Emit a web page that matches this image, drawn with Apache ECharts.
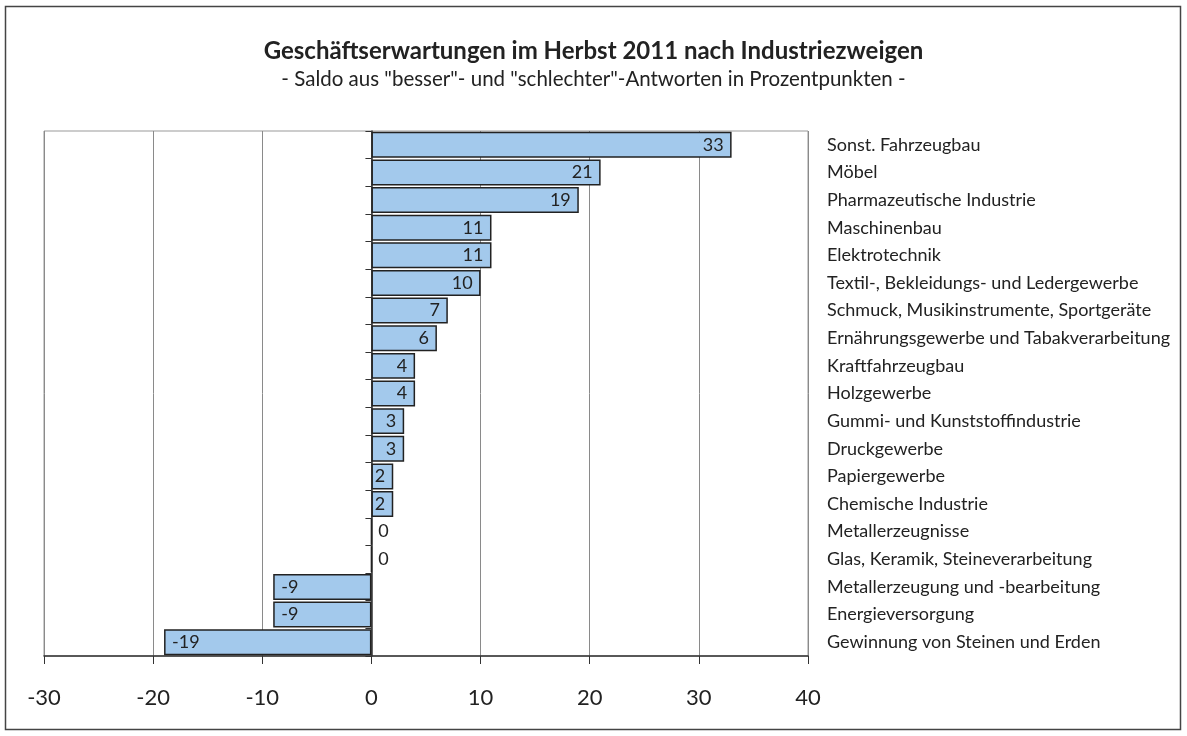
<!DOCTYPE html>
<html>
<head>
<meta charset="utf-8">
<script src="https://cdn.jsdelivr.net/npm/echarts@6/dist/echarts.min.js"></script>
<style>
	html, body { margin: 0; padding: 0; background: #fff; }
	#chart { width: 1187px; height: 736px; }
</style>
</head>
<body>
<div id="chart"></div>
<script>
var categories = ['Sonst. Fahrzeugbau', 'Möbel', 'Pharmazeutische Industrie', 'Maschinenbau', 'Elektrotechnik',
	'Textil-, Bekleidungs- und Ledergewerbe', 'Schmuck, Musikinstrumente, Sportgeräte',
	'Ernährungsgewerbe und Tabakverarbeitung', 'Kraftfahrzeugbau', 'Holzgewerbe',
	'Gummi- und Kunststoffindustrie', 'Druckgewerbe', 'Papiergewerbe', 'Chemische Industrie',
	'Metallerzeugnisse', 'Glas, Keramik, Steineverarbeitung', 'Metallerzeugung und -bearbeitung',
	'Energieversorgung', 'Gewinnung von Steinen und Erden'];
var saldo = [33, 21, 19, 11, 11, 10, 7, 6, 4, 4, 3, 3, 2, 2, 0, 0, -9, -9, -19];

var FONT = 'Lato';

// Beschriftung je nach Vorzeichen
var barData = saldo.map(function(v) {
	var pos = v > 0 ? 'insideRight' : (v < 0 ? 'insideLeft' : 'right');
	return {
		value: v,
		label: { position: pos, distance: v === 0 ? 6 : 8 }
	};
});

var myChart = echarts.init(document.getElementById('chart'));
var option = {
	animation: false,
	textStyle: { fontFamily: FONT },
	title: {
		text: 'Geschäftserwartungen im Herbst 2011 nach Industriezweigen',
		subtext: '- Saldo aus "besser"- und "schlechter"-Antworten in Prozentpunkten -',
		left: 'center',
		top: 34,
		itemGap: 6,
		textStyle: { fontFamily: FONT, fontSize: 24, fontWeight: 'bold', color: '#222' },
		subtextStyle: { fontFamily: FONT, fontSize: 20.5, color: '#222' }
	},
	graphic: [{
		type: 'rect',
		shape: { x: 5.5, y: 6.5, width: 1175, height: 723 },
		style: { fill: 'none', stroke: '#444', lineWidth: 1.5 },
		silent: true
	}],
	grid: {
		left: 44,
		right: 379,
		top: 131,
		bottom: 80,
		show: true,
		borderColor: '#999',
		borderWidth: 1
	},
	xAxis: {
		type: 'value',
		min: -30,
		max: 40,
		interval: 10,
		axisLine: { show: true, lineStyle: { color: '#333', width: 1.5 } },
		axisTick: { show: true, length: 8, lineStyle: { color: '#333' } },
		axisLabel: { margin: 31, fontSize: 22, color: '#222', fontFamily: FONT },
		splitLine: { show: true, lineStyle: { color: '#8a8a8a', width: 1 } }
	},
	yAxis: [{
		type: 'category',
		data: categories,
		inverse: true,
		axisLine: { show: true, onZero: true, lineStyle: { color: '#333', width: 1.5 } },
		axisTick: { show: true, length: 6, lineStyle: { color: '#333' } },
		axisLabel: { show: false }
	}, {
		type: 'category',
		data: categories,
		inverse: true,
		position: 'right',
		axisLine: { show: false },
		axisTick: { show: false },
		axisLabel: { show: true, margin: 19, fontSize: 18, color: '#222', fontFamily: FONT, align: 'left' }
	}],
	series: [{
		type: 'bar',
		yAxisIndex: 0,
		data: barData,
		barCategoryGap: '6%',
		itemStyle: { color: '#a3c9ec', borderColor: '#222', borderWidth: 1.5 },
		label: { show: true, fontSize: 18, color: '#222', fontFamily: FONT }
	}]
};
myChart.setOption(option);
</script>
</body>
</html>
